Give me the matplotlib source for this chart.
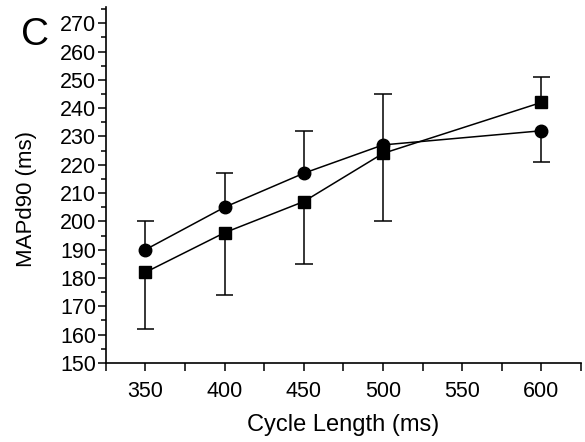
import matplotlib.pyplot as plt
import numpy as np
from matplotlib.ticker import MultipleLocator

plt.rcParams['font.family'] = ['Liberation Sans', 'DejaVu Sans']

cycle = np.array([350, 400, 450, 500, 600])

# circles
circ = np.array([190, 205, 217, 227, 232])
circ_lo = np.array([0, 0, 0, 0, 11])
circ_hi = np.array([10, 12, 15, 18, 0])

# squares
sq = np.array([182, 196, 207, 224, 242])
sq_lo = np.array([20, 22, 22, 24, 0])
sq_hi = np.array([0, 0, 0, 0, 9])

fig = plt.figure(figsize=(5.85, 4.42), dpi=100)
ax = fig.add_axes([0.181, 0.179, 0.812, 0.805])

cap = 5.5  # half width of caps, in x units


def bars(y, lo, hi):
    for x, v, a, b in zip(cycle, y, lo, hi):
        for end in (v - a, v + b):
            if end != v:
                ax.vlines(x, min(v, end), max(v, end), color='black', lw=1.1, zorder=1)
                ax.hlines(end, x - cap, x + cap, color='black', lw=1.1, zorder=1)


bars(circ, circ_lo, circ_hi)
bars(sq, sq_lo, sq_hi)

ax.plot(cycle, circ, color='black', marker='o', markersize=9, lw=1.1, zorder=2)
ax.plot(cycle, sq, color='black', marker='s', markersize=8, lw=1.1, zorder=2)

ax.set_xlim(325, 625)
ax.set_ylim(150, 275.7)
ax.xaxis.set_major_locator(MultipleLocator(50))
ax.xaxis.set_minor_locator(MultipleLocator(25))
ax.yaxis.set_major_locator(MultipleLocator(10))
ax.yaxis.set_minor_locator(MultipleLocator(5))

for s in ['top', 'right']:
    ax.spines[s].set_visible(False)
for s in ['left', 'bottom']:
    ax.spines[s].set_linewidth(1.2)

ax.tick_params(axis='both', which='major', labelsize=15.5, length=6, width=1.1, pad=1)
ax.tick_params(axis='x', which='minor', length=6, width=1.1)
ax.tick_params(axis='y', which='minor', length=3.5, width=1.1)
ax.tick_params(axis='x', which='major', pad=7)

ax.set_xlabel('Cycle Length (ms)', fontsize=17, labelpad=9)
ax.set_ylabel('MAPd90 (ms)', fontsize=16, va='center')
ax.yaxis.set_label_coords(-0.168, 0.46)

fig.text(0.036, 0.898, 'C', fontsize=28)

fig.savefig('out.png', dpi=100)
